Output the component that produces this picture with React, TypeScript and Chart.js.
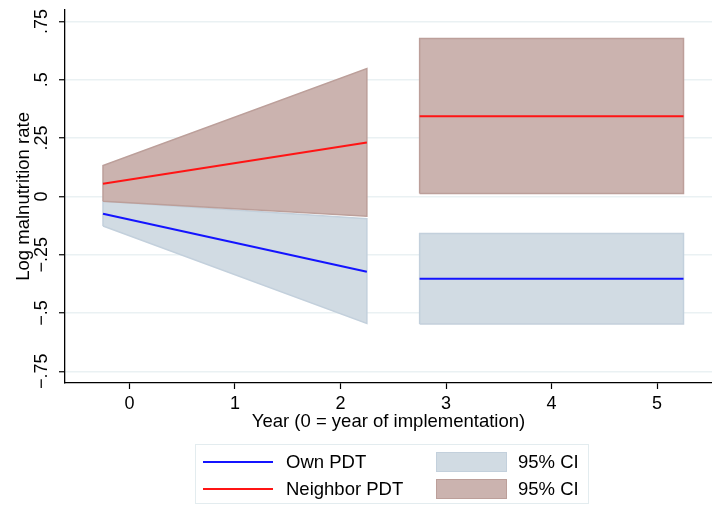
import React, { useEffect, useRef } from "react";
import { Chart, registerables } from "chart.js";

Chart.register(...registerables);

// ---- data ----
const trendYears = [-0.25, 2.25];
const ownTrend = [-0.074, -0.323];
const ownTrendLo = [-0.127, -0.545];
const ownTrendHi = [-0.021, -0.096];
const nbrTrend = [0.054, 0.231];
const nbrTrendLo = [-0.021, -0.085];
const nbrTrendHi = [0.132, 0.548];

const postYears = [2.75, 3.25, 3.75, 4.25, 4.75, 5.25];
const ownPost = [-0.353, -0.353, -0.353, -0.353, -0.353, -0.353];
const ownPostLo = [-0.547, -0.547, -0.547, -0.547, -0.547, -0.547];
const ownPostHi = [-0.159, -0.159, -0.159, -0.159, -0.159, -0.159];
const nbrPost = [0.344, 0.344, 0.344, 0.344, 0.344, 0.344];
const nbrPostLo = [0.012, 0.012, 0.012, 0.012, 0.012, 0.012];
const nbrPostHi = [0.677, 0.677, 0.677, 0.677, 0.677, 0.677];

const xTicks = [0, 1, 2, 3, 4, 5];
const yTicks = [-0.75, -0.5, -0.25, 0, 0.25, 0.5, 0.75];
const yTickLabels: Record<string, string> = {
  "-0.75": "\u2212.75",
  "-0.5": "\u2212.5",
  "-0.25": "\u2212.25",
  "0": "0",
  "0.25": ".25",
  "0.5": ".5",
  "0.75": ".75",
};

const BLUE = "#1414ff";
const RED = "#ff1414";
const BLUE_FILL = "#d1dbe3";
const BLUE_EDGE = "#c3d0dc";
const RED_FILL = "#cbb3af";
const RED_EDGE = "#bc9f9a";
const GRID = "#eaf1f3";
const FONT = "'Liberation Sans', Arial, Helvetica, sans-serif";

const pts = (xs: number[], ys: number[]) => xs.map((x, i) => ({ x, y: ys[i] }));
const polygon = (xs: number[], lo: number[], hi: number[]) => {
  const lower = xs.map((x, i) => ({ x, y: lo[i] }));
  const upper = xs.map((x, i) => ({ x, y: hi[i] })).reverse();
  return [...lower, ...upper, lower[0]];
};

export default function App() {
  const ref = useRef<HTMLCanvasElement | null>(null);

  useEffect(() => {
    if (!ref.current) return;
    const line = (data: any[], color: string) => ({
      data,
      borderColor: color,
      borderWidth: 2,
      pointRadius: 0,
      fill: false,
      tension: 0,
      order: 0,
    });
    const band = (data: any[], fill: string, edge: string) => ({
      data,
      borderColor: edge,
      backgroundColor: fill,
      borderWidth: 1.5,
      pointRadius: 0,
      fill: "shape",
      tension: 0,
      order: 1,
    });
    const chart = new Chart(ref.current, {
      type: "line",
      data: {
        datasets: [
          line(pts(trendYears, ownTrend), BLUE),
          line(pts(postYears, ownPost), BLUE),
          line(pts(trendYears, nbrTrend), RED),
          line(pts(postYears, nbrPost), RED),
          band(polygon(trendYears, nbrTrendLo, nbrTrendHi), RED_FILL, RED_EDGE),
          band(polygon(postYears, nbrPostLo, nbrPostHi), RED_FILL, RED_EDGE),
          band(polygon(trendYears, ownTrendLo, ownTrendHi), BLUE_FILL, BLUE_EDGE),
          band(polygon(postYears, ownPostLo, ownPostHi), BLUE_FILL, BLUE_EDGE),
        ] as any,
      },
      options: {
        animation: false,
        responsive: false,
        parsing: false as any,
        layout: { padding: { top: 7, right: 0, left: 0, bottom: 0 } },
        plugins: { legend: { display: false }, tooltip: { enabled: false } },
        scales: {
          x: {
            type: "linear",
            min: -0.61,
            max: 5.52,
            afterBuildTicks: (s: any) => {
              s.ticks = xTicks.map((v) => ({ value: v }));
            },
            afterFit: (s: any) => {
              s.height = 123;
            },
            grid: {
              display: true,
              drawOnChartArea: false,
              drawTicks: true,
              tickLength: 6,
              tickColor: "#000",
              tickWidth: 1.2,
            },
            border: { display: true, color: "#000", width: 1.3 },
            ticks: {
              color: "#000",
              font: { family: FONT, size: 18 },
              padding: 4,
              maxRotation: 0,
              callback: (v: any) => String(v),
            },
            title: {
              display: true,
              text: "Year (0 = year of implementation)",
              color: "#000",
              font: { family: FONT, size: 18.5 },
              padding: { top: 0, bottom: 73 },
            },
          },
          y: {
            type: "linear",
            min: -0.8,
            max: 0.8,
            afterBuildTicks: (s: any) => {
              s.ticks = yTicks.map((v) => ({ value: v }));
            },
            afterFit: (s: any) => {
              s.width = 65;
            },
            grid: {
              display: true,
              drawOnChartArea: true,
              drawTicks: true,
              tickLength: 6,
              color: GRID,
              lineWidth: 1.5,
              tickColor: "#000",
              tickWidth: 1.2,
            },
            border: { display: true, color: "#000", width: 1.3 },
            ticks: {
              color: "#000",
              font: { family: FONT, size: 18 },
              padding: -1,
              minRotation: 90,
              maxRotation: 90,
              crossAlign: "center",
              callback: (v: any) => yTickLabels[String(v)] ?? String(v),
            },
            title: {
              display: true,
              text: "Log malnutrition rate",
              color: "#000",
              font: { family: FONT, size: 18.5 },
              padding: { top: 13, bottom: 0 },
            },
          },
        },
      } as any,
    });
    return () => chart.destroy();
  }, []);

  const legendText: React.CSSProperties = {
    position: "absolute",
    fontFamily: FONT,
    fontSize: 18.5,
    color: "#000",
    lineHeight: "20px",
    whiteSpace: "nowrap",
  };

  return (
    <div style={{ position: "fixed", left: 0, top: 0, width: 712, height: 506, background: "#fff" }}>
      <canvas ref={ref} width={712} height={506} style={{ position: "absolute", left: 0, top: 0 }} />
      <div
        style={{
          position: "absolute",
          left: 195,
          top: 444,
          width: 394,
          height: 60,
          border: "1px solid #e3ecef",
          boxSizing: "border-box",
        }}
      />
      <div style={{ position: "absolute", left: 203, top: 461, width: 70, height: 2, background: BLUE }} />
      <div style={{ position: "absolute", left: 203, top: 488, width: 70, height: 2, background: RED }} />
      <div style={{ ...legendText, left: 286, top: 452 }}>Own PDT</div>
      <div style={{ ...legendText, left: 286, top: 479 }}>Neighbor PDT</div>
      <div
        style={{
          position: "absolute",
          left: 436,
          top: 452,
          width: 71,
          height: 20,
          background: BLUE_FILL,
          border: `1px solid ${BLUE_EDGE}`,
          boxSizing: "border-box",
        }}
      />
      <div
        style={{
          position: "absolute",
          left: 436,
          top: 479,
          width: 71,
          height: 20,
          background: RED_FILL,
          border: `1px solid ${RED_EDGE}`,
          boxSizing: "border-box",
        }}
      />
      <div style={{ ...legendText, left: 518, top: 452 }}>95% CI</div>
      <div style={{ ...legendText, left: 518, top: 479 }}>95% CI</div>
    </div>
  );
}
